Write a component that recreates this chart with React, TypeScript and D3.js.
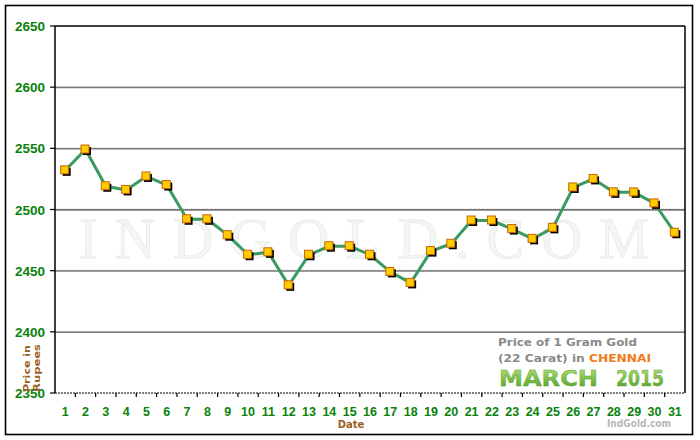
import React from "react";
import * as d3 from "d3";

const days: string[] = ["1","2","3","4","5","6","7","8","9","10","11","12","13","14","15","16","17","18","19","20","21","22","23","24","25","26","27","28","29","30","31"];
const prices: number[] = [2532, 2549, 2519, 2516, 2527, 2520, 2492, 2492, 2479, 2463, 2465, 2438, 2463, 2470, 2470, 2463, 2449, 2440, 2466, 2472, 2491, 2491, 2484, 2476, 2485, 2518, 2525, 2514, 2514, 2505, 2481];
const yTicks: number[] = [2350, 2400, 2450, 2500, 2550, 2600, 2650];
const yDomain: [number, number] = [2350, 2650];

const W = 700, H = 440;
const L = 55, R = 685, T = 26, B = 393;
const GREEN = "#0a820a";
const BROWN = "#9a5f22";
const SANS = "'Liberation Sans', Arial, sans-serif";
const VERD = "'DejaVu Sans', Verdana, sans-serif";

export default function App() {
  const x = d3.scaleBand<string>().domain(days).range([L, R]).paddingInner(0).paddingOuter(0);
  const bw = x.bandwidth();
  const cx = (d: string) => (x(d) as number) + bw / 2;
  const y = d3.scaleLinear().domain(yDomain).range([B, T]);
  const line = d3.line<number>().x((_, i) => cx(days[i])).y((v) => y(v));
  const grid = yTicks.filter((t) => t > yDomain[0] && t < yDomain[1]);

  return (
    <div>
      <style>{`body{margin:0}`}</style>
      <svg width={W} height={H} style={{ display: "block" }}>
        <defs>
          <linearGradient id="mg" x1="0" y1="0" x2="0" y2="1">
            <stop offset="0" stopColor="#b4e07a" />
            <stop offset="0.55" stopColor="#78bb45" />
            <stop offset="1" stopColor="#4f9a2c" />
          </linearGradient>
        </defs>
        <rect x={0} y={0} width={W} height={H} fill="#fff" />
        <rect x={5.5} y={5.5} width={687} height={429} fill="none" stroke="#000" strokeWidth={1.6} />

        {/* watermark */}
        <text x={79} y={258} fontFamily="'Liberation Serif', 'DejaVu Serif', serif" fontSize={56}
          fill="#f4f6f4" stroke="#e8ece8" strokeWidth={0.8} textLength={570} lengthAdjust="spacing">INDGOLD.COM</text>

        {/* grid */}
        {grid.map((t) => (
          <g key={t}>
            <line x1={L} x2={R} y1={y(t) + 0.4} y2={y(t) + 0.4} stroke="#7a7a7a" strokeWidth={1.6} />
            <line x1={L} x2={R} y1={y(t) - 0.5} y2={y(t) - 0.5} stroke="#222" strokeWidth={0.8} strokeDasharray="1,1" opacity={0.35} />
          </g>
        ))}
        {/* frame */}
        <line x1={L} x2={R} y1={T} y2={T} stroke="#000" strokeWidth={1.5} />
        <line x1={L} x2={L} y1={T} y2={B} stroke="#000" strokeWidth={1.5} />
        <line x1={R} x2={R} y1={T} y2={B} stroke="#000" strokeWidth={1.5} />
        <line x1={L} x2={R} y1={B} y2={B} stroke="#000" strokeWidth={1} strokeDasharray="2,1" />

        {/* y ticks and labels */}
        {yTicks.map((t) => (
          <g key={t}>
            <line x1={L - 5} x2={L} y1={y(t)} y2={y(t)} stroke="#000" strokeWidth={1.2} />
            <text x={45} y={y(t) + 5} textAnchor="end" fontFamily={SANS} fontWeight="bold" fontSize={13.5} fill={GREEN}>{t}</text>
          </g>
        ))}

        {/* x ticks and labels */}
        {days.map((d, i) => (
          <g key={d}>
            {i > 0 && <line x1={x(d) as number} x2={x(d) as number} y1={B} y2={B + 4} stroke="#000" strokeWidth={1.2} />}
            <text x={cx(d)} y={416} textAnchor="middle" fontFamily={SANS} fontWeight="bold" fontSize={12.5} fill={GREEN}>{d}</text>
          </g>
        ))}

        <text x={351} y={428} textAnchor="middle" fontFamily={VERD} fontWeight="bold" fontSize={10} fill={BROWN}>Date</text>
        <text transform="translate(30,392) rotate(-90)" fontFamily={VERD} fontWeight="bold" fontSize={9.5} fill={BROWN} textLength={47} lengthAdjust="spacingAndGlyphs">Price in</text>
        <text transform="translate(40,392) rotate(-90)" fontFamily={VERD} fontWeight="bold" fontSize={9.5} fill={BROWN} textLength={48} lengthAdjust="spacingAndGlyphs">Rupees</text>

        {/* legend */}
        <text x={498} y={346} fontFamily={VERD} fontWeight="bold" fontSize={10.5} fill="#8a8a8a" textLength={139} lengthAdjust="spacingAndGlyphs">Price of 1 Gram Gold</text>
        <text x={498} y={362} fontFamily={VERD} fontWeight="bold" fontSize={10.5} fill="#8a8a8a" textLength={153} lengthAdjust="spacingAndGlyphs">
          (22 Carat) in <tspan fill="#f07a1a">CHENNAI</tspan>
        </text>
        <text x={499} y={386} fontFamily={VERD} fontWeight="bold" fontSize={21} fill="url(#mg)" stroke="#5aa235" strokeWidth={0.4} textLength={99} lengthAdjust="spacingAndGlyphs">MARCH</text>
        <text x={616} y={386} fontFamily={VERD} fontWeight="bold" fontSize={21} fill="url(#mg)" stroke="#5aa235" strokeWidth={0.4} textLength={48} lengthAdjust="spacingAndGlyphs">2015</text>
        <text x={607} y={427} fontFamily={VERD} fontWeight="bold" fontSize={10} fill="#b8b8b8" textLength={64} lengthAdjust="spacingAndGlyphs">IndGold.com</text>

        {/* series */}
        <path d={line(prices) || ""} fill="none" stroke="#3a9a60" strokeWidth={3} strokeLinejoin="round" />
        {prices.map((v, i) => (
          <g key={i}>
            <rect x={cx(days[i]) - 2.5} y={y(v) - 2.5} width={8} height={8} fill="#000" />
            <rect x={cx(days[i]) - 4.5} y={y(v) - 4.5} width={8} height={8} fill="#ffcc00" stroke="#c8650a" strokeWidth={1} />
          </g>
        ))}
      </svg>
    </div>
  );
}
